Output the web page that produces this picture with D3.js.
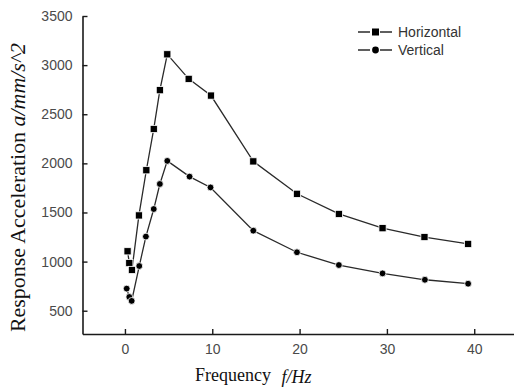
<!DOCTYPE html>
<html>
<head>
<meta charset="utf-8">
<script src="https://cdn.jsdelivr.net/npm/d3@7"></script>
<style>
  body { margin: 0; background: #fff; }
  svg { display: block; }
</style>
</head>
<body>
<svg id="chart" width="514" height="389"></svg>
<script>
// data
var freqH = [0.3, 0.5, 0.8, 1.6, 2.45, 3.3, 4.0, 4.85, 7.3, 9.85, 14.7, 19.7, 24.5, 29.5, 34.3, 39.3];
var accH  = [1105, 985, 915, 1470, 1930, 2350, 2745, 3110, 2860, 2690, 2020, 1690, 1485, 1340, 1250, 1180];
var freqV = [0.2, 0.5, 0.77, 1.64, 2.4, 3.3, 4.0, 4.85, 7.4, 9.8, 14.7, 19.7, 24.5, 29.5, 34.35, 39.3];
var accV  = [725, 640, 600, 955, 1255, 1535, 1790, 2025, 1865, 1755, 1315, 1095, 965, 880, 815, 775];
var seriesNames = ["Horizontal", "Vertical"];
var xTicks = [0, 10, 20, 30, 40];
var yTicks = [500, 1000, 1500, 2000, 2500, 3000, 3500];

var svg = d3.select("#chart");

// scales
var x = d3.scaleLinear().domain([-4.86, 44.6]).range([82.5, 514.4]);
var y = d3.scaleLinear().domain([263, 3500]).range([334, 16]);

var ink = "#1a1a1a";

// axes, ticks pointing inward
var xAxis = svg.append("g")
  .attr("transform", "translate(0," + y.range()[0] + ")")
  .call(d3.axisBottom(x).tickValues(xTicks).tickFormat(d3.format("d")).tickSize(-5).tickPadding(10).tickSizeOuter(0));
var yAxis = svg.append("g")
  .attr("transform", "translate(" + x.range()[0] + ",0)")
  .call(d3.axisLeft(y).tickValues(yTicks).tickFormat(d3.format("d")).tickSize(-5).tickPadding(10).tickSizeOuter(0));

[xAxis, yAxis].forEach(function(a) {
  a.select(".domain").attr("stroke", ink).attr("stroke-width", 1.6);
  a.selectAll(".tick line").attr("stroke", ink).attr("stroke-width", 1.4);
  a.selectAll(".tick text")
    .attr("fill", "#4a4a4a")
    .style("font-family", "'Liberation Sans', Arial, sans-serif")
    .style("font-size", "14px");
});

// lines
var line = d3.line()
  .x(function(d) { return x(d[0]); })
  .y(function(d) { return y(d[1]); });

var dataH = d3.zip(freqH, accH);
var dataV = d3.zip(freqV, accV);

[dataH, dataV].forEach(function(data) {
  svg.append("path")
    .datum(data)
    .attr("d", line)
    .attr("fill", "none")
    .attr("stroke", "#2a2a2a")
    .attr("stroke-width", 1.3);
});

// markers
svg.selectAll(".sq")
  .data(dataH)
  .enter().append("rect")
  .attr("class", "sq")
  .attr("x", function(d) { return x(d[0]) - 3.6; })
  .attr("y", function(d) { return y(d[1]) - 3.6; })
  .attr("width", 7.2)
  .attr("height", 7.2)
  .attr("fill", "#000")
  .attr("stroke", "#fff")
  .attr("stroke-width", 0.8);

svg.selectAll(".dot")
  .data(dataV)
  .enter().append("circle")
  .attr("class", "dot")
  .attr("cx", function(d) { return x(d[0]); })
  .attr("cy", function(d) { return y(d[1]); })
  .attr("r", 3.4)
  .attr("fill", "#000")
  .attr("stroke", "#fff")
  .attr("stroke-width", 0.8);

// legend
var legend = svg.append("g").attr("transform", "translate(358,32)");
seriesNames.forEach(function(name, i) {
  var row = legend.append("g").attr("transform", "translate(0," + (i * 18) + ")");
  row.append("line").attr("x1", 0).attr("x2", 12).attr("stroke", ink).attr("stroke-width", 1.4);
  row.append("line").attr("x1", 22).attr("x2", 34).attr("stroke", ink).attr("stroke-width", 1.4);
  if (i === 0) {
    row.append("rect").attr("x", 14).attr("y", -3.5).attr("width", 7).attr("height", 7).attr("fill", "#000");
  } else {
    row.append("circle").attr("cx", 17.5).attr("cy", 0).attr("r", 3.4).attr("fill", "#000");
  }
  row.append("text")
    .attr("x", 40)
    .attr("y", 5)
    .attr("fill", "#333")
    .style("font-family", "'Liberation Sans', Arial, sans-serif")
    .style("font-size", "14px")
    .text(name);
});

// axis titles
var xt = svg.append("text")
  .attr("x", 195)
  .attr("y", 381)
  .attr("fill", "#111")
  .style("font-family", "'Liberation Serif', 'Times New Roman', serif")
  .style("font-size", "18px");
xt.append("tspan").text("Frequency ");
xt.append("tspan").attr("dx", 6).attr("dy", 2).style("font-style", "italic").text("f/Hz");

var yt = svg.append("text")
  .attr("transform", "translate(25,332) rotate(-90)")
  .attr("x", 0)
  .attr("y", 0)
  .attr("fill", "#111")
  .attr("textLength", 289)
  .attr("lengthAdjust", "spacingAndGlyphs")
  .style("font-family", "'Liberation Serif', 'Times New Roman', serif")
  .style("font-size", "20px");
yt.append("tspan").text("Response Acceleration ");
yt.append("tspan").style("font-style", "italic").text("a/mm/s^2");
</script>
</body>
</html>
